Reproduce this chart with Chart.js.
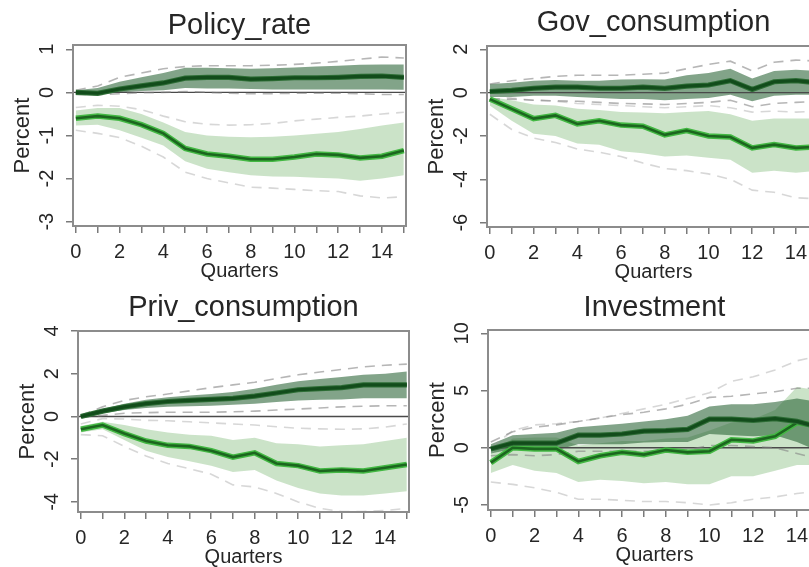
<!DOCTYPE html>
<html>
<head>
<meta charset="utf-8">
<script src="https://cdn.jsdelivr.net/npm/chart.js@4.4.0/dist/chart.umd.min.js"></script>
<style>
  html, body { margin: 0; padding: 0; background: #fff; overflow: hidden; width: 809px; height: 567px; }
  canvas { position: absolute; }
</style>
</head>
<body>
<canvas id="c1"></canvas>
<canvas id="c2"></canvas>
<canvas id="c3"></canvas>
<canvas id="c4"></canvas>
<script>
// horizon
const quarters = [0, 1, 2, 3, 4, 5, 6, 7, 8, 9, 10, 11, 12, 13, 14, 15];

// Policy_rate
const policyTicks = [1, 0, -1, -2, -3];
const policyDarkMid = [0.00, -0.02, 0.08, 0.15, 0.22, 0.33, 0.35, 0.35, 0.31, 0.32, 0.34, 0.34, 0.35, 0.37, 0.38, 0.35];
const policyDarkLo = [-0.05, -0.05, 0.00, 0.03, 0.05, 0.10, 0.09, 0.09, 0.08, 0.07, 0.07, 0.07, 0.07, 0.07, 0.07, 0.06];
const policyDarkHi = [0.05, 0.10, 0.25, 0.35, 0.45, 0.57, 0.57, 0.56, 0.55, 0.56, 0.58, 0.60, 0.62, 0.64, 0.65, 0.65];
const policyDarkDashLo = [-0.05, -0.05, -0.03, -0.01, 0.00, 0.02, 0.00, -0.02, -0.03, -0.03, -0.02, -0.02, -0.02, -0.03, -0.05, -0.05];
const policyDarkDashHi = [0.05, 0.15, 0.35, 0.45, 0.55, 0.60, 0.62, 0.62, 0.62, 0.63, 0.65, 0.68, 0.72, 0.77, 0.82, 0.80];
const policyLightMid = [-0.60, -0.55, -0.60, -0.75, -0.95, -1.30, -1.43, -1.48, -1.55, -1.55, -1.50, -1.43, -1.45, -1.52, -1.48, -1.35];
const policyLightLo = [-0.77, -0.75, -0.88, -1.05, -1.23, -1.60, -1.77, -1.85, -1.92, -1.95, -1.96, -1.98, -2.00, -2.05, -2.00, -1.92];
const policyLightHi = [-0.42, -0.36, -0.36, -0.50, -0.70, -0.92, -1.00, -1.03, -1.04, -1.03, -1.00, -0.96, -0.92, -0.85, -0.77, -0.70];
const policyLightDashLo = [-0.88, -0.95, -1.05, -1.25, -1.50, -1.85, -2.00, -2.10, -2.20, -2.22, -2.25, -2.28, -2.30, -2.40, -2.45, -2.42];
const policyLightDashHi = [-0.35, -0.30, -0.32, -0.40, -0.55, -0.68, -0.74, -0.76, -0.75, -0.72, -0.66, -0.62, -0.58, -0.55, -0.50, -0.46];

// Gov_consumption
const govTicks = [2, 0, -2, -4, -6];
const govDarkMid = [0.05, 0.10, 0.20, 0.25, 0.25, 0.20, 0.20, 0.25, 0.20, 0.30, 0.35, 0.55, 0.15, 0.50, 0.55, 0.45];
const govDarkLo = [-0.20, -0.20, -0.15, -0.15, -0.20, -0.25, -0.30, -0.30, -0.35, -0.30, -0.25, -0.10, -0.40, -0.15, -0.10, -0.10];
const govDarkHi = [0.40, 0.45, 0.55, 0.58, 0.55, 0.55, 0.60, 0.62, 0.60, 0.80, 0.90, 1.10, 0.65, 1.00, 1.05, 1.00];
const govDarkDashLo = [-0.30, -0.30, -0.35, -0.38, -0.40, -0.45, -0.50, -0.52, -0.55, -0.50, -0.45, -0.35, -0.65, -0.50, -0.45, -0.40];
const govDarkDashHi = [0.40, 0.55, 0.65, 0.75, 0.80, 0.80, 0.80, 0.85, 0.90, 1.10, 1.30, 1.45, 1.00, 1.40, 1.50, 1.45];
const govLightMid = [-0.30, -0.75, -1.20, -1.05, -1.45, -1.30, -1.50, -1.55, -1.95, -1.75, -2.00, -2.05, -2.55, -2.40, -2.55, -2.50];
const govLightLo = [-0.60, -1.30, -1.90, -2.00, -2.35, -2.40, -2.70, -2.80, -2.95, -2.90, -3.00, -3.10, -3.70, -3.60, -3.70, -3.60];
const govLightHi = [-0.20, -0.35, -0.55, -0.60, -0.75, -0.80, -0.90, -0.92, -0.95, -0.90, -0.85, -1.00, -1.30, -1.20, -1.20, -1.20];
const govLightDashLo = [-1.00, -1.70, -2.10, -2.30, -2.60, -2.75, -2.95, -3.25, -3.50, -3.60, -3.75, -4.00, -4.50, -4.60, -4.85, -4.90];
const govLightDashHi = [-0.10, -0.25, -0.35, -0.40, -0.50, -0.55, -0.60, -0.65, -0.70, -0.65, -0.60, -0.70, -0.90, -0.85, -0.90, -0.85];

// Priv_consumption
const privTicks = [4, 2, 0, -2, -4];
const privDarkMid = [0.00, 0.25, 0.45, 0.60, 0.70, 0.75, 0.80, 0.85, 0.95, 1.10, 1.25, 1.30, 1.35, 1.48, 1.48, 1.48];
const privDarkLo = [-0.05, 0.15, 0.30, 0.40, 0.45, 0.48, 0.50, 0.55, 0.60, 0.68, 0.75, 0.78, 0.80, 0.85, 0.85, 0.85];
const privDarkHi = [0.05, 0.35, 0.60, 0.78, 0.90, 0.98, 1.05, 1.15, 1.30, 1.48, 1.65, 1.75, 1.85, 1.95, 2.00, 2.10];
const privDarkDashLo = [-0.05, 0.05, 0.15, 0.18, 0.20, 0.20, 0.20, 0.22, 0.25, 0.30, 0.35, 0.40, 0.45, 0.48, 0.50, 0.50];
const privDarkDashHi = [0.05, 0.45, 0.75, 0.92, 1.05, 1.20, 1.35, 1.48, 1.60, 1.78, 1.95, 2.08, 2.20, 2.32, 2.40, 2.45];
const privLightMid = [-0.60, -0.40, -0.80, -1.15, -1.35, -1.40, -1.60, -1.90, -1.70, -2.20, -2.30, -2.55, -2.50, -2.55, -2.40, -2.25];
const privLightLo = [-0.75, -0.60, -1.10, -1.60, -1.90, -2.10, -2.30, -2.60, -2.50, -3.00, -3.35, -3.60, -3.70, -3.70, -3.60, -3.50];
const privLightHi = [-0.45, -0.25, -0.40, -0.60, -0.75, -0.85, -0.90, -1.10, -1.00, -1.25, -1.30, -1.40, -1.35, -1.30, -1.15, -1.00];
const privLightDashLo = [-0.85, -0.90, -1.40, -1.85, -2.20, -2.45, -2.70, -3.20, -3.30, -3.60, -4.00, -4.30, -4.45, -4.45, -4.40, -4.30];
const privLightDashHi = [-0.35, -0.10, -0.12, -0.18, -0.20, -0.25, -0.30, -0.35, -0.40, -0.48, -0.55, -0.58, -0.60, -0.58, -0.50, -0.35];

// Investment
const invTicks = [10, 5, 0, -5];
const invDarkMid = [-0.10, 0.40, 0.40, 0.40, 1.10, 1.10, 1.20, 1.45, 1.50, 1.60, 2.50, 2.50, 2.40, 2.55, 2.30, 1.80];
const invDarkLo = [-0.50, -0.10, -0.20, -0.20, 0.30, 0.30, 0.30, 0.45, 0.50, 0.50, 1.20, 1.10, 1.00, 1.10, 0.50, -0.30];
const invDarkHi = [0.30, 1.10, 1.20, 1.30, 1.80, 1.95, 2.10, 2.30, 2.50, 2.80, 3.60, 3.80, 3.80, 4.00, 4.30, 4.00];
const invDarkDashLo = [-0.70, -0.60, -0.70, -0.60, -0.30, -0.30, -0.30, -0.30, -0.30, -0.20, 0.20, 0.20, 0.10, 0.00, -0.50, -1.00];
const invDarkDashHi = [0.50, 1.40, 1.80, 2.00, 2.30, 2.60, 2.90, 3.10, 3.40, 3.80, 4.40, 4.50, 4.70, 4.90, 5.20, 5.20];
const invLightMid = [-1.30, 0.00, -0.10, -0.10, -1.20, -0.70, -0.40, -0.60, -0.20, -0.40, -0.30, 0.70, 0.60, 1.00, 2.20, 1.90];
const invLightLo = [-2.20, -1.50, -2.00, -2.20, -3.00, -2.80, -2.90, -3.10, -3.00, -3.20, -3.20, -2.50, -2.50, -2.00, -1.50, -1.50];
const invLightHi = [-0.50, 0.80, 0.90, 0.90, 0.20, 0.40, 0.60, 0.60, 0.80, 0.90, 1.50, 2.20, 2.50, 3.30, 5.30, 5.00];
const invLightDashLo = [-3.00, -3.20, -3.50, -3.90, -4.50, -4.50, -4.60, -4.70, -4.70, -4.80, -5.00, -4.80, -4.50, -4.30, -4.00, -3.80];
const invLightDashHi = [0.00, 1.50, 2.00, 2.10, 2.30, 2.60, 3.00, 3.40, 3.80, 4.30, 4.80, 5.80, 6.20, 6.80, 7.60, 8.00];

const panels = [
  { title: 'Policy_rate', ticks: policyTicks, yMin: -3.1, yMax: 1.1,
    dark: [policyDarkMid, policyDarkLo, policyDarkHi, policyDarkDashLo, policyDarkDashHi],
    light: [policyLightMid, policyLightLo, policyLightHi, policyLightDashLo, policyLightDashHi] },
  { title: 'Gov_consumption', ticks: govTicks, yMin: -6.2, yMax: 2.15,
    dark: [govDarkMid, govDarkLo, govDarkHi, govDarkDashLo, govDarkDashHi],
    light: [govLightMid, govLightLo, govLightHi, govLightDashLo, govLightDashHi] },
  { title: 'Priv_consumption', ticks: privTicks, yMin: -4.47, yMax: 4.0,
    dark: [privDarkMid, privDarkLo, privDarkHi, privDarkDashLo, privDarkDashHi],
    light: [privLightMid, privLightLo, privLightHi, privLightDashLo, privLightDashHi] },
  { title: 'Investment', ticks: invTicks, yMin: -5.44, yMax: 10.29,
    dark: [invDarkMid, invDarkLo, invDarkHi, invDarkDashLo, invDarkDashHi],
    light: [invLightMid, invLightLo, invLightHi, invLightDashLo, invLightDashHi] }
];

// where each panel sits on the page
const frames = [
  { left: -5, top: 0, width: 421, height: 285, titleTop: 9.0, titleBottom: 1.2 },
  { left: 409, top: 0, width: 421, height: 286, titleTop: 5.8, titleBottom: 5.4 },
  { left: 0, top: 285, width: 419, height: 286, titleTop: 5.5, titleBottom: 5.7 },
  { left: 410, top: 285, width: 421, height: 284, titleTop: 5.5, titleBottom: 4.7 }
];

const FONT = '"Liberation Sans", Arial, sans-serif';
const textColor = '#262626';
const axisGray = '#7a7a7a';

// box around the plot, the zero line and the rotated y labels
const framePlugin = {
  id: 'rFrame',
  afterDatasetDraw(chart, args) {
    if (!chart.data.datasets[args.index].zeroAfter) return;
    const { ctx, chartArea, scales: { y } } = chart;
    const py = y.getPixelForValue(0);
    ctx.save();
    ctx.strokeStyle = '#4a4a4a';
    ctx.lineWidth = 1.3;
    ctx.beginPath();
    ctx.moveTo(chartArea.left, py);
    ctx.lineTo(chartArea.right, py);
    ctx.stroke();
    ctx.restore();
  },
  afterDraw(chart) {
    const { ctx, chartArea, scales: { y } } = chart;
    ctx.save();
    ctx.strokeStyle = '#8c8c8c';
    ctx.lineWidth = 2;
    ctx.strokeRect(chartArea.left, chartArea.top, chartArea.right - chartArea.left, chartArea.bottom - chartArea.top);
    ctx.font = '20px ' + FONT;
    ctx.fillStyle = textColor;
    ctx.textAlign = 'center';
    ctx.textBaseline = 'middle';
    y.ticks.forEach(t => {
      ctx.save();
      ctx.translate(chartArea.left - 26, y.getPixelForValue(t.value));
      ctx.rotate(-Math.PI / 2);
      ctx.fillText(String(t.value), 0, 0);
      ctx.restore();
    });
    ctx.restore();
  }
};

function line(data, color, width, order, dash) {
  return { data, borderColor: color, borderWidth: width, borderDash: dash || [],
           pointRadius: 0, fill: false, tension: 0, order };
}

function buildDatasets(p) {
  const [dMid, dLo, dHi, dDLo, dDHi] = p.dark;
  const [lMid, lLo, lHi, lDLo, lDHi] = p.light;
  return [
    // 0,1 light band
    { data: lLo, borderColor: 'transparent', borderWidth: 0, pointRadius: 0, fill: false, order: 9 },
    { data: lHi, borderColor: 'transparent', borderWidth: 0, pointRadius: 0, fill: 0,
      backgroundColor: 'rgba(140, 192, 134, 0.45)', order: 8 },
    // 2,3 dark band
    { data: dLo, borderColor: 'transparent', borderWidth: 0, pointRadius: 0, fill: false, order: 7 },
    { data: dHi, borderColor: 'transparent', borderWidth: 0, pointRadius: 0, fill: 2,
      backgroundColor: 'rgba(40, 98, 52, 0.58)', order: 6, zeroAfter: true },
    // dashed outer bands
    line(lDLo, 'rgba(160, 160, 160, 0.42)', 1.6, 5, [10, 7]),
    line(lDHi, 'rgba(160, 160, 160, 0.42)', 1.6, 5, [10, 7]),
    line(dDLo, 'rgba(130, 130, 130, 0.58)', 1.6, 4, [10, 7]),
    line(dDHi, 'rgba(130, 130, 130, 0.58)', 1.6, 4, [10, 7]),
    // medians
    line(lMid, '#43b843', 5.5, 3),
    line(lMid, '#1c661f', 2.6, 2),
    line(dMid, '#2e6e36', 5.2, 1),
    line(dMid, '#124c1b', 3.2, 0)
  ];
}

panels.forEach((p, i) => {
  const f = frames[i];
  const canvas = document.getElementById('c' + (i + 1));
  canvas.width = f.width;
  canvas.height = f.height;
  canvas.style.left = f.left + 'px';
  canvas.style.top = f.top + 'px';
  canvas.style.width = f.width + 'px';
  canvas.style.height = f.height + 'px';

  new Chart(canvas.getContext('2d'), {
    type: 'line',
    data: { labels: quarters, datasets: buildDatasets(p) },
    plugins: [framePlugin],
    options: {
      responsive: false,
      animation: false,
      devicePixelRatio: 1,
      layout: { padding: { left: 0, right: 10, top: 0, bottom: 0 } },
      plugins: {
        legend: { display: false },
        tooltip: { enabled: false },
        title: {
          display: true, text: p.title, fullSize: false, color: textColor,
          font: { family: FONT, size: 29, weight: 'normal', lineHeight: 1.2 },
          padding: { top: f.titleTop, bottom: f.titleBottom }
        }
      },
      scales: {
        x: {
          type: 'linear', min: -0.13, max: 15.1,
          afterBuildTicks: s => { s.ticks = quarters.map(v => ({ value: v })); },
          afterFit: s => { s.height = 59; },
          grid: { drawOnChartArea: false, drawTicks: true, tickLength: 7, color: axisGray, lineWidth: 1.5 },
          border: { display: false },
          ticks: {
            color: textColor, padding: 7, maxRotation: 0, autoSkip: false,
            font: { family: FONT, size: 20 },
            callback: v => (v % 2 === 0 ? String(v) : '')
          },
          title: {
            display: true, text: 'Quarters', color: textColor,
            font: { family: FONT, size: 20, lineHeight: 1.2 },
            padding: { top: 0, bottom: 2 }
          }
        },
        y: {
          type: 'linear', min: p.yMin, max: p.yMax,
          afterBuildTicks: s => { s.ticks = p.ticks.map(v => ({ value: v })); },
          afterFit: s => { s.width = 78; },
          grid: { drawOnChartArea: false, drawTicks: true, tickLength: 7, color: axisGray, lineWidth: 1.5 },
          border: { display: false },
          ticks: { display: false },
          title: {
            display: true, text: 'Percent', color: textColor,
            font: { family: FONT, size: 22, lineHeight: 1.2 },
            padding: { top: 14.8, bottom: 0 }
          }
        }
      }
    }
  });
});
</script>
</body>
</html>
